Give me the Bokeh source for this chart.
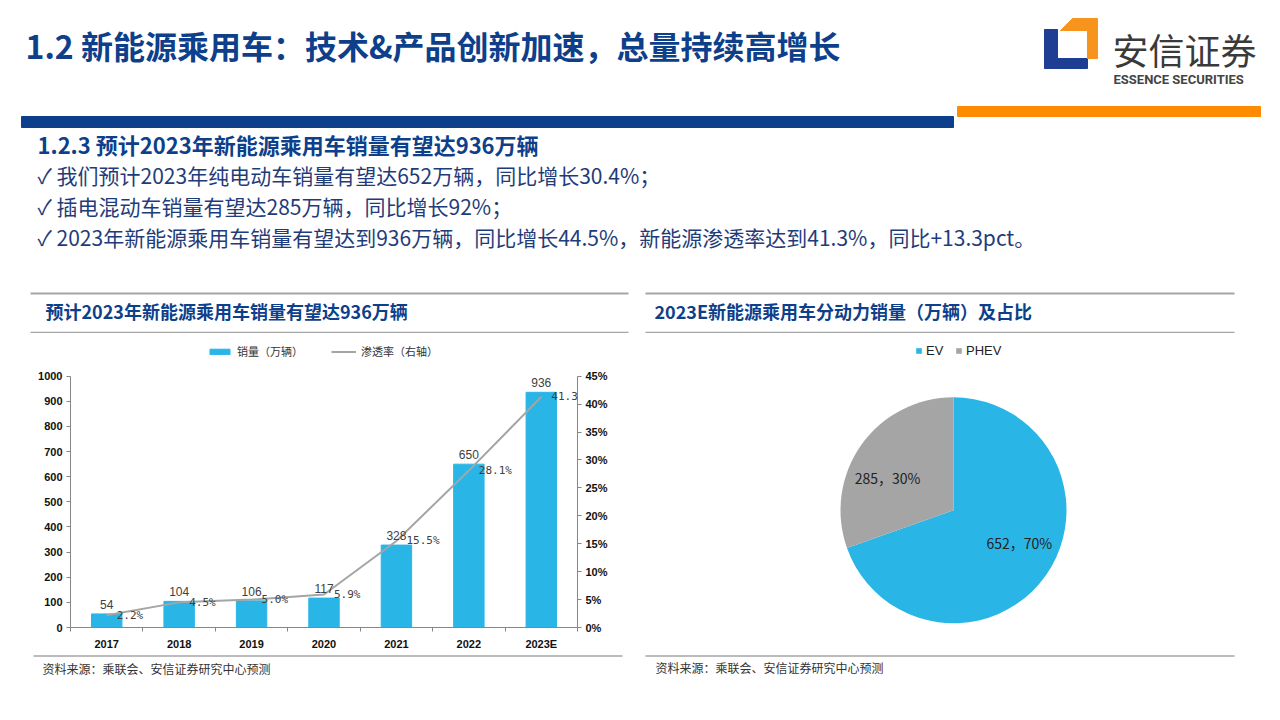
import math
from bokeh.plotting import figure
from bokeh.layouts import column, row
from bokeh.models import (Range1d, LinearAxis, FixedTicker, PrintfTickFormatter,
                          Legend, LegendItem, LabelSet, ColumnDataSource)
from bokeh.core.properties import value
from bokeh.embed import file_html
from bokeh.resources import INLINE

# ---------------- data ----------------
years = ["2017", "2018", "2019", "2020", "2021", "2022", "2023E"]
sales = [54, 104, 106, 117, 328, 650, 936]            # 销量（万辆）
penetration = [2.2, 4.5, 5.0, 5.9, 15.5, 28.1, 41.3]  # 渗透率（%）
left_ticks = [0, 100, 200, 300, 400, 500, 600, 700, 800, 900, 1000]
right_ticks = [0, 5, 10, 15, 20, 25, 30, 35, 40, 45]

pie_names = ["EV", "PHEV"]
pie_values = [652, 285]
pie_shares = [70, 30]

# ---------------- texts ----------------
main_title = "1.2 新能源乘用车：技术&产品创新加速，总量持续高增长"
sub_title = "1.2.3 预计2023年新能源乘用车销量有望达936万辆"
bullets = [
    "✓ 我们预计2023年纯电动车销量有望达652万辆，同比增长30.4%；",
    "✓ 插电混动车销量有望达285万辆，同比增长92%；",
    "✓ 2023年新能源乘用车销量有望达到936万辆，同比增长44.5%，新能源渗透率达到41.3%，同比+13.3pct。",
]
left_panel_title = "预计2023年新能源乘用车销量有望达936万辆"
right_panel_title = "2023E新能源乘用车分动力销量（万辆）及占比"
source_text = "资料来源：乘联会、安信证券研究中心预测"
legend_bar = "销量（万辆）"
legend_line = "渗透率（右轴）"

NAVY = "#0E3F8A"
BULLET = "#1F3C7A"
BLUE = "#29B6E7"
GRAY = "#A5A5A5"
CJK = "Noto Sans CJK SC"


def blank(w, h, xr, yr, **kw):
    p = figure(width=w, height=h, x_range=xr, y_range=yr, output_backend="svg",
               toolbar_location=None, x_axis_type=None, y_axis_type=None,
               min_border=0, title=None, **kw)
    p.grid.visible = False
    p.outline_line_color = None
    p.background_fill_color = "white"
    p.border_fill_color = "white"
    return p


# ---------------- header (page y 0..333) ----------------
hdr = blank(1264, 333, Range1d(0, 1264), Range1d(333, 0))
hdr.text(x=[25], y=[44], text=[main_title], text_font=value(CJK), text_font_size="32px",
         text_font_style="bold", text_color=NAVY, text_baseline="middle", text_align="left")
hdr.quad(left=[21], right=[953], top=[116], bottom=[127], color=NAVY)
hdr.quad(left=[957], right=[1260], top=[106], bottom=[116], color="#FF8C00")
# logo
hdr.patch([1044, 1057, 1057, 1087, 1087, 1044], [29, 29, 58, 58, 68, 68], color="#1D3E92")
hdr.patch([1072, 1097, 1097, 1087, 1087, 1060], [18, 18, 58, 58, 30, 30], color="#F7941D")
hdr.text(x=[1112], y=[48], text=["安信证券"], text_font=value(CJK), text_font_size="36px",
         text_color="#3A3A3A", text_baseline="middle", text_align="left")
hdr.text(x=[1113], y=[79], text=["ESSENCE SECURITIES"],
         text_font=value("Roboto"), text_font_size="13px",
         text_font_style="bold", text_color="#444444", text_baseline="middle", text_align="left")
# subtitle and bullets
hdr.text(x=[37], y=[143], text=[sub_title], text_font=value(CJK), text_font_size="22px",
         text_font_style="bold", text_color=NAVY, text_baseline="middle", text_align="left")
hdr.text(x=[37, 37, 37], y=[174, 205, 236], text=bullets, text_font=value(CJK),
         text_font_size="21px", text_color=BULLET, text_baseline="middle", text_align="left")
# panel heads
hdr.segment(x0=[30, 645], y0=[293, 293], x1=[628, 1234], y1=[293, 293], line_color=GRAY, line_width=2)
hdr.segment(x0=[30, 645], y0=[332, 332], x1=[628, 1234], y1=[332, 332], line_color=GRAY, line_width=1.5)
hdr.text(x=[45, 654], y=[310, 310], text=[left_panel_title, right_panel_title], text_font=value(CJK),
         text_font_size="18px", text_font_style="bold", text_color=NAVY,
         text_baseline="middle", text_align="left")

# ---------------- bar + line chart (page x 0..637, y 333..652) ----------------
n = len(years)
centers = [i + 0.5 for i in range(n)]
bounds = [float(i) for i in range(n + 1)]

ch = figure(width=637, height=319, x_range=Range1d(0, n), y_range=Range1d(0, 1170),
            output_backend="svg", toolbar_location=None, x_axis_type=None, y_axis_type=None,
            title=None, min_border_left=70, min_border_right=60, min_border_top=0,
            min_border_bottom=23)
ch.grid.visible = False
ch.outline_line_color = None
ch.extra_y_ranges = {"pct": Range1d(0, 52.65)}

AX = "#868686"
xaxis = LinearAxis(ticker=FixedTicker(ticks=centers, minor_ticks=bounds),
                   major_label_overrides={c: y for c, y in zip(centers, years)})
xaxis.major_tick_line_color = None
xaxis.major_tick_out = 0
xaxis.major_tick_in = 0
xaxis.minor_tick_line_color = AX
xaxis.minor_tick_out = 4
xaxis.minor_tick_in = 0
xaxis.major_label_standoff = 6
ch.add_layout(xaxis, "below")

yl = LinearAxis(ticker=FixedTicker(ticks=left_ticks), bounds=(0, 1000))
yl.major_tick_out = 4
yl.major_tick_in = 0
yl.minor_tick_line_color = None
yl.major_label_standoff = 4
ch.add_layout(yl, "left")

yr = LinearAxis(y_range_name="pct", ticker=FixedTicker(ticks=right_ticks), bounds=(0, 45),
                formatter=PrintfTickFormatter(format="%d%%"))
yr.major_tick_out = 4
yr.major_tick_in = 0
yr.minor_tick_line_color = None
yr.major_label_standoff = 4
ch.add_layout(yr, "right")

for ax in (xaxis, yl, yr):
    ax.axis_line_color = AX
    ax.major_label_text_font = "Liberation Sans"
    ax.major_label_text_font_style = "bold"
    ax.major_label_text_font_size = "11px"
    ax.major_label_text_color = "#111111"
yl.major_tick_line_color = AX
yr.major_tick_line_color = AX

bars = ch.vbar(x=centers, top=sales, width=0.42, color=BLUE)
pline = ch.line(x=centers, y=penetration, y_range_name="pct", line_color=GRAY, line_width=2)
ch.text(x=centers, y=sales, text=[str(s) for s in sales], text_align="center",
        text_baseline="bottom", y_offset=-5, text_font=value("Liberation Sans"),
        text_font_size="12px", text_color="#404040")
pct_src = ColumnDataSource(dict(x=centers, y=penetration,
                                t=[f"{v:.1f}%" for v in penetration]))
ch.add_layout(LabelSet(x="x", y="y", text="t", source=pct_src, y_range_name="pct",
                       x_offset=10, y_offset=0, text_align="left", text_baseline="middle",
                       text_font=value("DejaVu Sans Mono"), text_font_size="11px",
                       text_color="#404040"))

leg = Legend(items=[LegendItem(label=legend_bar, renderers=[bars]),
                    LegendItem(label=legend_line, renderers=[pline])],
             orientation="horizontal", location=(137, 268),
             glyph_width=25, glyph_height=7, label_standoff=5, spacing=28,
             padding=0, margin=0, label_height=12, label_text_font=CJK,
             label_text_font_size="11px", label_text_color="#333333",
             border_line_alpha=0, background_fill_alpha=0)
ch.add_layout(leg)

# ---------------- pie (page x 637..1264, frame y 333..629) ----------------
R = 113.0
pie = blank(627, 319, Range1d(-316 / R, 311 / R), Range1d(-118 / R, 178 / R),
            min_border_bottom=23)
total = float(sum(pie_values))
starts, ends, mids = [], [], []
cum = 0.0
for v in pie_values:
    a0 = math.pi / 2 - 2 * math.pi * cum / total
    cum += v
    a1 = math.pi / 2 - 2 * math.pi * cum / total
    starts.append(a0)
    ends.append(a1)
    mids.append((a0 + a1) / 2)
wedges = pie.wedge(x=[0, 0], y=[0, 0], radius=1, start_angle=starts, end_angle=ends,
                   direction="clock", fill_color=[BLUE, GRAY], line_color=None)
lab_ang = [m + math.radians(9) for m in mids]
pie.text(x=[0.65 * math.cos(a) for a in lab_ang], y=[0.65 * math.sin(a) for a in lab_ang],
         text=[f"{v}，{s}%" for v, s in zip(pie_values, pie_shares)],
         text_align="center", text_baseline="middle", text_font=value(CJK),
         text_font_size="14px", text_color="#222222")
pleg = Legend(items=[LegendItem(label=nm, renderers=[wedges], index=i) for i, nm in enumerate(pie_names)],
              orientation="horizontal", location=(278, 269),
              glyph_width=7, glyph_height=7, label_standoff=4, spacing=9,
              padding=0, margin=0, label_height=12, label_text_font="Liberation Sans",
              label_text_font_size="13px", label_text_color="#222222",
              border_line_alpha=0, background_fill_alpha=0)
pie.add_layout(pleg)

# ---------------- footer (page y 652..704) ----------------
ftr = blank(1264, 52, Range1d(0, 1264), Range1d(704, 652))
ftr.segment(x0=[33, 645], y0=[655.5, 655.5], x1=[622, 1234], y1=[655.5, 655.5],
            line_color=GRAY, line_width=1.5)
ftr.text(x=[42, 655], y=[668, 667], text=[source_text, source_text], text_font=value(CJK),
         text_font_size="12px", text_color="#333333", text_baseline="middle", text_align="left")

layout = column(hdr, row(ch, pie), ftr)
open("out.html", "w").write(file_html(layout, INLINE))
